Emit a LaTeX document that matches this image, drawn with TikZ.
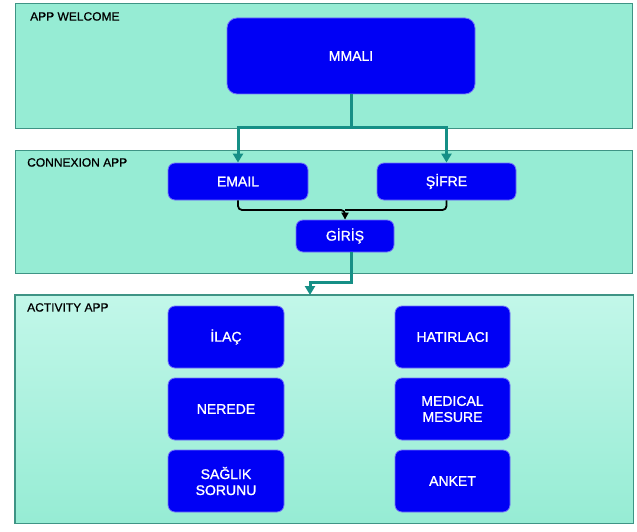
\documentclass[tikz,border=0pt]{standalone}
\usepackage{fontspec}
\setmainfont{Liberation Sans}
\newfontfamily\boxfont[FakeBold=1.2]{Liberation Sans}
\newfontfamily\titlefont[FakeBold=0.8]{Liberation Sans}
\usetikzlibrary{arrows.meta,positioning}
\definecolor{panelfill}{HTML}{96ECD4}
\definecolor{paneltop}{HTML}{C2F7E9}
\definecolor{panelline}{HTML}{3E9485}
\definecolor{boxblue}{HTML}{0000F5}
\definecolor{teal}{HTML}{168F86}
\tikzset{
  panel/.style={draw=panelline, line width=1.2pt, fill=panelfill, minimum width=617pt, anchor=north west, inner sep=0pt},
  paneltitle/.style={anchor=north west, font=\titlefont\fontsize{12}{14}\selectfont, text=black, inner sep=0pt},
  bluebox/.style={draw=boxblue!55!white, line width=0.8pt, fill=boxblue, rounded corners=7pt, text=white, font=\boxfont\fontsize{14}{16}\selectfont, align=center, inner sep=0pt},
  tealarrow/.style={draw=teal, line width=3pt, -{Triangle[length=9pt,width=10pt]}},
  tealline/.style={draw=teal, line width=3pt},
  blackarrow/.style={draw=black, line width=1.8pt, rounded corners=4pt, -{Triangle[length=7pt,width=7pt]}},
}
\begin{document}
\begin{tikzpicture}[x=1pt,y=-1pt]
\useasboundingbox[fill=white] (0,0) rectangle (637,532);
% panels
\node[panel, minimum height=125pt] (pw) at (15,3) {};
\node[panel, minimum height=123pt] (pc) at (15,150) {};
\node[panel, minimum height=227pt, draw=none, fill=none] (pa) at (15,295) {};
\shade[top color=paneltop, bottom color=panelfill] (pa.north west) rectangle (pa.south east);
\draw[panelline, line width=1.2pt] (pa.north west) rectangle (pa.south east);
\node[paneltitle] (tw) at (30,12) {APP WELCOME};
\node[paneltitle] (tc) at (27,158) {CONNEXION APP};
\node[paneltitle] (ta) at (27,303) {ACTIVITY APP};
% boxes
\node[bluebox, minimum width=248pt, minimum height=76pt, rounded corners=10pt] (mmali) at (351,56) {MMALI};
\node[bluebox, minimum width=140pt, minimum height=37pt] (email) at (238,181.5) {EMAIL};
\node[bluebox, minimum width=139pt, minimum height=37pt] (sifre) at (446.5,181.5) {ŞİFRE};
\node[bluebox, minimum width=98pt, minimum height=32pt] (giris) at (345,236) {GİRİŞ};
\node[bluebox, minimum width=116pt, minimum height=62pt] (ilac) at (226,337) {İLAÇ};
\node[bluebox, minimum width=116pt, minimum height=62pt] (nerede) at (226,409) {NEREDE};
\node[bluebox, minimum width=116pt, minimum height=62pt] (saglik) at (226,481) {SAĞLIK\\SORUNU};
\node[bluebox, minimum width=115pt, minimum height=62pt] (hatir) at (452.5,337) {HATIRLACI};
\node[bluebox, minimum width=115pt, minimum height=62pt] (medical) at (452.5,409) {MEDICAL\\MESURE};
\node[bluebox, minimum width=115pt, minimum height=62pt] (anket) at (452.5,481) {ANKET};
% connectors
\coordinate (split) at (351,128);
\draw[tealline] (mmali.south) -- (split);
\draw[tealarrow] (split) -| (email.north);
\draw[tealarrow] (split) -| (sifre.north);
\coordinate (join) at (345,210);
\draw[blackarrow] (email.south) |- (join) -- (giris.north);
\draw[black, line width=1.8pt, rounded corners=4pt] (sifre.south) |- (join);
\coordinate (bend1) at (351,282);
\draw[tealarrow] ([xshift=6pt]giris.south) -- (bend1) -| (pa.north -| 310,0);
\end{tikzpicture}
\end{document}
